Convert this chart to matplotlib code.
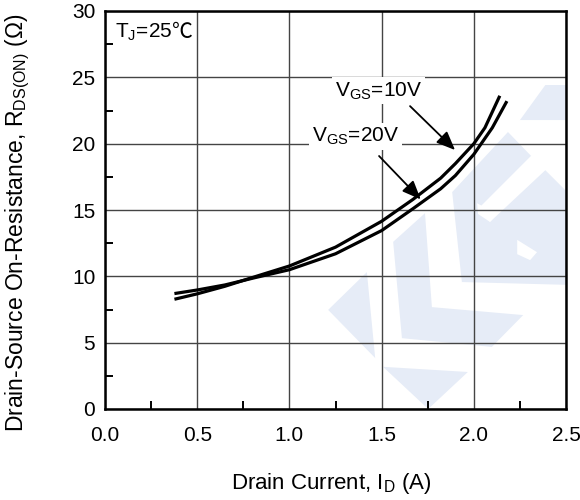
import matplotlib
matplotlib.use('Agg')
import matplotlib.pyplot as plt
from matplotlib.patches import Polygon
from matplotlib.ticker import MultipleLocator
from matplotlib.transforms import offset_copy

plt.rcParams['font.family'] = ['Liberation Sans', 'DejaVu Sans']
plt.rcParams['mathtext.fontset'] = 'custom'
plt.rcParams['mathtext.rm'] = 'Liberation Sans'

# On-resistance vs drain current, Tj = 25 C
id_10v = [0.385, 0.5, 0.65, 0.813, 1.0, 1.25, 1.5, 1.67, 1.82, 1.9, 2.0, 2.06, 2.137]
rds_10v = [8.30, 8.68, 9.25, 9.97, 10.78, 12.2, 14.15, 15.8, 17.4, 18.5, 20.0, 21.2, 23.5]

id_20v = [0.385, 0.5, 0.65, 0.813, 1.0, 1.25, 1.5, 1.67, 1.82, 1.9, 2.0, 2.1, 2.175]
rds_20v = [8.72, 8.97, 9.35, 9.9, 10.5, 11.7, 13.45, 15.1, 16.6, 17.6, 19.2, 21.2, 23.1]

x_ticks = [0.0, 0.5, 1.0, 1.5, 2.0, 2.5]
y_ticks = [0, 5, 10, 15, 20, 25, 30]

fig = plt.figure(figsize=(5.8, 5.0), dpi=100)
ax = fig.add_axes([0.181, 0.182, 0.795, 0.796])

# faint logo in the background (axes fraction coords)
wm_color = '#e6ecf7'
logo = [
    [(0.484, 0.249), (0.568, 0.344), (0.586, 0.128)],
    [(0.603, 0.106), (0.787, 0.093), (0.701, 0.0)],
    [(0.625, 0.420), (0.694, 0.492), (0.709, 0.256), (0.907, 0.236),
     (0.839, 0.156), (0.644, 0.178)],
    [(0.753, 0.545), (0.874, 0.696), (0.924, 0.636), (0.811, 0.505),
     (0.835, 0.470), (0.955, 0.600), (1.0, 0.548), (1.0, 0.312), (0.774, 0.319)],
    [(0.900, 0.726), (0.955, 0.814), (1.0, 0.814), (1.0, 0.726)],
]
for pts in logo:
    ax.add_patch(Polygon(pts, closed=True, transform=ax.transAxes,
                         facecolor=wm_color, edgecolor='none', zorder=0))
for pts in [[(0.807, 0.517), (0.809, 0.490), (0.835, 0.470), (0.850, 0.490)],
            [(0.894, 0.425), (0.894, 0.389), (0.922, 0.374), (0.937, 0.394)]]:
    ax.add_patch(Polygon(pts, closed=True, transform=ax.transAxes,
                         facecolor='white', edgecolor='none', zorder=0.5))

ax.plot(id_10v, rds_10v, color='black', lw=2.3, zorder=3)
ax.plot(id_20v, rds_20v, color='black', lw=2.3, zorder=3)

ax.set_xlim(0, 2.5)
ax.set_ylim(0, 30)
ax.set_xticks(x_ticks)
ax.set_yticks(y_ticks)
ax.set_xticklabels([f'{v:.1f}' for v in x_ticks])
ax.xaxis.set_minor_locator(MultipleLocator(0.25))
ax.yaxis.set_minor_locator(MultipleLocator(2.5))
ax.tick_params(which='major', length=0, labelsize=15)
ax.tick_params(axis='x', which='major', pad=12)
ax.tick_params(axis='y', which='major', pad=7)
ax.tick_params(which='minor', direction='in', length=6, width=1.4, color='black')
ax.grid(True, which='major', color='#444444', lw=1.0, zorder=1)
ax.set_axisbelow(True)
for s in ax.spines.values():
    s.set_linewidth(1.8)
    s.set_color('black')
    s.set_zorder(4)

ax.set_xlabel(r'Drain Current, I$_\mathregular{D}$ (A)', fontsize=16, va='top')
ax.xaxis.set_label_coords(0.49, -0.156)
ax.set_ylabel(r'Drain-Source On-Resistance, R$_\mathregular{DS(ON)}$ (Ω)', fontsize=16.5)
ax.yaxis.set_label_coords(-0.158, 0.467)

# junction temperature note; the degree sign comes from a CJK font
tj = ax.text(0.054, 28.0, r'T$_\mathregular{J}$=25', fontsize=15, zorder=5)
fig.canvas.draw()
tj_w = tj.get_window_extent().width
ax.text(0.054, 28.0, '℃', fontsize=15, family=['Noto Sans CJK SC', 'DejaVu Sans'],
        zorder=5, transform=offset_copy(ax.transData, fig=fig, x=tj_w, units='dots'))

box = dict(facecolor='white', edgecolor='none', pad=2)
ax.text(1.247, 23.6, r'V$_\mathregular{GS}$=10V', fontsize=15, bbox=box, zorder=5)
ax.text(1.123, 20.15, r'V$_\mathregular{GS}$=20V', fontsize=15, bbox=box, zorder=5)

arrow = dict(arrowstyle='-|>,head_length=0.6,head_width=0.25', mutation_scale=19,
             lw=1.3, color='black', shrinkA=0, shrinkB=0)
ax.annotate('', xy=(1.898, 19.52), xytext=(1.654, 22.83), arrowprops=arrow, zorder=5)
ax.annotate('', xy=(1.712, 15.8), xytext=(1.486, 19.07), arrowprops=arrow, zorder=5)

fig.savefig('out.png', dpi=100)
